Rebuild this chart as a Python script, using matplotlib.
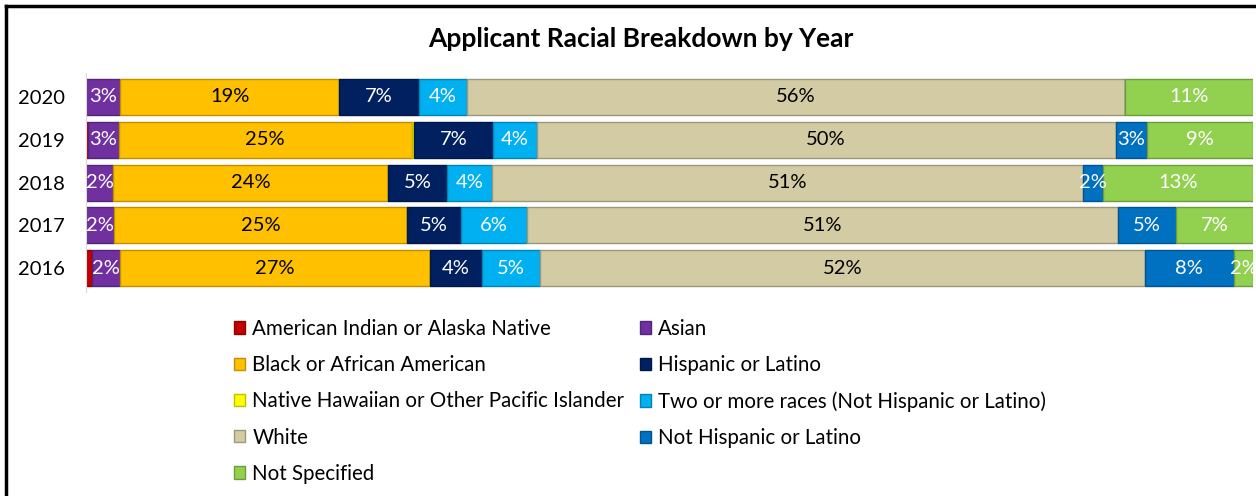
import matplotlib.pyplot as plt
import matplotlib.colors as mcolors
from matplotlib.lines import Line2D
from matplotlib.patches import Patch
import numpy as np

plt.rcParams['font.family'] = ['Lato', 'DejaVu Sans']

years = ['2020', '2019', '2018', '2017', '2016']
categories = ['American Indian or Alaska Native', 'Asian', 'Black or African American',
              'Native Hawaiian or Other Pacific Islander', 'Hispanic or Latino',
              'Two or more races (Not Hispanic or Latino)', 'White',
              'Not Hispanic or Latino', 'Not Specified']

# percent of applicants, one list per category, years in the order above
american_indian = [0.0, 0.2, 0.0, 0.0, 0.5]
asian = [2.9, 2.6, 2.3, 2.4, 2.4]
black = [18.8, 25.1, 23.6, 25.1, 26.6]
native_hawaiian = [0.0, 0.2, 0.0, 0.0, 0.0]
hispanic = [6.8, 6.8, 5.0, 4.6, 4.4]
two_or_more = [4.1, 3.7, 3.9, 5.7, 5.0]
white = [56.4, 49.6, 50.6, 50.6, 51.8]
not_hispanic = [0.0, 2.7, 1.7, 5.0, 7.6]
not_specified = [11.0, 9.1, 12.9, 6.6, 1.7]

series = [american_indian, asian, black, native_hawaiian, hispanic,
          two_or_more, white, not_hispanic, not_specified]
colors = ['#C00000', '#7030A0', '#FFC000', '#FFFF00', '#002060',
          '#00B0F0', '#D2CBA4', '#0070C0', '#92D050']
label_colors = ['white', 'white', 'black', 'black', 'white',
                'white', 'black', 'white', 'white']


def darker(c, f=0.75):
    return tuple(v * f for v in mcolors.to_rgb(c))


fig = plt.figure(figsize=(12.56, 4.96), dpi=100)
ax = fig.add_axes([0.0685, 0.412, 0.9295, 0.440])

y = np.arange(len(years))
left = np.zeros(len(years))
for vals, col, tcol in zip(series, colors, label_colors):
    vals = np.array(vals)
    bars = ax.barh(y, vals, left=left, height=0.84, color=col,
                   edgecolor=darker(col), linewidth=1.0)
    for b, v in zip(bars, vals):
        if v >= 1:
            ax.text(b.get_x() + b.get_width() / 2, b.get_y() + b.get_height() / 2,
                    f'{v:.0f}%', ha='center', va='center', color=tcol, fontsize=14.5)
    left += vals

ax.set_xlim(0, 100)
ax.set_ylim(len(years) - 0.45, -0.55)
ax.set_yticks(y)
ax.set_yticklabels(years, fontsize=14.5)
ax.set_xticks([])
ax.tick_params(axis='y', length=0, pad=15)
for s in ['top', 'right', 'bottom']:
    ax.spines[s].set_visible(False)
ax.spines['left'].set_color('#D9D9D9')

fig.text(0.51, 0.922, 'Applicant Racial Breakdown by Year', ha='center', va='center',
         fontsize=19, fontweight='bold')

# legend laid out row by row in two columns
order = [0, 2, 3, 6, 8, 1, 4, 5, 7]
handles = [Patch(facecolor=colors[i], edgecolor=darker(colors[i]), label=categories[i])
           for i in order]
fig.legend(handles=handles, ncol=2, loc='upper left', bbox_to_anchor=(0.178, 0.378),
           frameon=False, fontsize=14.8, handlelength=0.55, handleheight=0.55,
           handletextpad=0.35, columnspacing=0.75, labelspacing=0.79, borderpad=0)

# frame lines along the top and left edges
fig.add_artist(Line2D([0.005, 1.0], [0.988, 0.988], color='black', lw=2.5,
                      transform=fig.transFigure))
fig.add_artist(Line2D([0.005, 0.005], [0.0, 0.988], color='black', lw=2.5,
                      transform=fig.transFigure))

fig.savefig('out.png', dpi=100)
